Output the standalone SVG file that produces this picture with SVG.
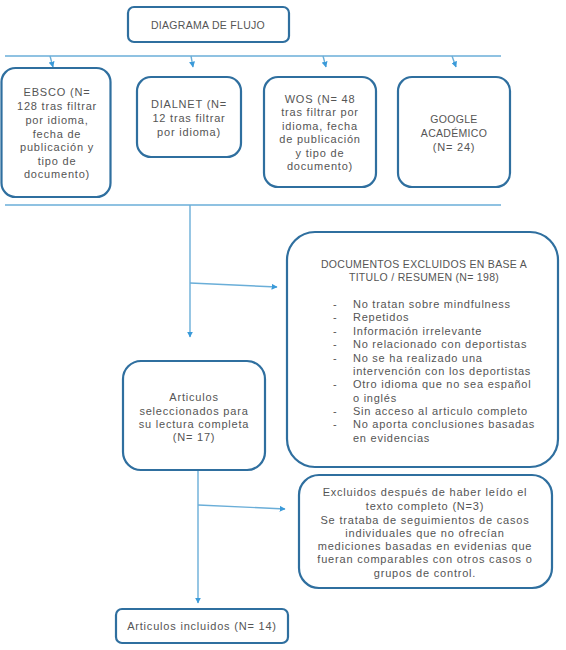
<svg xmlns="http://www.w3.org/2000/svg" width="566" height="650" viewBox="0 0 566 650">
<defs>
<style>
.box{fill:#fff;stroke:#2f6f9f;stroke-width:2.2}
.ln{fill:none;stroke:#6aaed8;stroke-width:1.4}
.t{font-family:"Liberation Sans",Arial,sans-serif;font-size:11px;fill:#555;text-anchor:middle;letter-spacing:0.8px}
.c{font-size:10.5px;letter-spacing:0.3px}
.tl{font-family:"Liberation Sans",Arial,sans-serif;font-size:11px;fill:#555;letter-spacing:0.75px}
</style>
<marker id="ah" viewBox="0 0 10 10" refX="9" refY="5" markerWidth="6" markerHeight="6" markerUnits="userSpaceOnUse" orient="auto">
<path d="M0,0 L10,5 L0,10 z" fill="#3a9ad9"/>
</marker>
</defs>
<rect width="566" height="650" fill="#fff"/>
<g id="connectors">
<line class="ln" x1="5" y1="56" x2="501" y2="56"/>
<line class="ln" x1="50" y1="56" x2="53" y2="67" marker-end="url(#ah)"/>
<line class="ln" x1="191" y1="56" x2="193" y2="67" marker-end="url(#ah)"/>
<line class="ln" x1="323" y1="56" x2="326" y2="67" marker-end="url(#ah)"/>
<line class="ln" x1="452" y1="56" x2="456" y2="67" marker-end="url(#ah)"/>
<line class="ln" x1="5" y1="205" x2="501" y2="205"/>
<line class="ln" x1="190" y1="205" x2="190" y2="337" marker-end="url(#ah)"/>
<line class="ln" x1="190" y1="283" x2="277" y2="287" marker-end="url(#ah)"/>
<line class="ln" x1="198" y1="470" x2="198" y2="603" marker-end="url(#ah)"/>
<line class="ln" x1="198" y1="505" x2="285" y2="509" marker-end="url(#ah)"/>
</g>
<g id="title">
<rect class="box" x="128" y="7" width="161" height="35" rx="6"/>
<text class="t c" x="208" y="29">DIAGRAMA DE FLUJO</text>
</g>
<g id="ebsco">
<rect class="box" x="1.5" y="68" width="109" height="129" rx="14"/>
<text class="t" x="57" y="96">EBSCO (N=</text>
<text class="t" x="57" y="110">128 tras filtrar</text>
<text class="t" x="57" y="124">por idioma,</text>
<text class="t" x="57" y="138">fecha de</text>
<text class="t" x="57" y="151">publicación y</text>
<text class="t" x="57" y="165">tipo de</text>
<text class="t" x="57" y="178">documento)</text>
</g>
<g id="dialnet">
<rect class="box" x="137" y="77" width="104" height="80" rx="14"/>
<text class="t" x="189" y="108">DIALNET (N=</text>
<text class="t" x="189" y="122">12 tras filtrar</text>
<text class="t" x="189" y="136">por idioma)</text>
</g>
<g id="wos">
<rect class="box" x="264" y="77" width="112" height="110" rx="14"/>
<text class="t" x="320" y="103">WOS (N= 48</text>
<text class="t" x="320" y="116">tras filtrar por</text>
<text class="t" x="320" y="130">idioma, fecha</text>
<text class="t" x="320" y="143">de publicación</text>
<text class="t" x="320" y="157">y tipo de</text>
<text class="t" x="320" y="170">documento)</text>
</g>
<g id="google">
<rect class="box" x="398" y="77" width="112" height="110" rx="14"/>
<text class="t c" x="454" y="123">GOOGLE</text>
<text class="t c" x="454" y="137">ACADÉMICO</text>
<text class="t" x="454" y="151">(N= 24)</text>
</g>
<g id="excluidos-titulo">
<rect class="box" x="287" y="232" width="271" height="235" rx="28"/>
<text class="t c" x="424" y="268">DOCUMENTOS EXCLUIDOS EN BASE A</text>
<text class="t c" x="424" y="281">TITULO / RESUMEN (N= 198)</text>
<g class="tl">
<text x="333" y="308">-</text><text x="353" y="308">No tratan sobre mindfulness</text>
<text x="333" y="321">-</text><text x="353" y="321">Repetidos</text>
<text x="333" y="335">-</text><text x="353" y="335">Información irrelevante</text>
<text x="333" y="348">-</text><text x="353" y="348">No relacionado con deportistas</text>
<text x="333" y="362">-</text><text x="353" y="362">No se ha realizado una</text>
<text x="353" y="375">intervención con los deportistas</text>
<text x="333" y="388">-</text><text x="353" y="388">Otro idioma que no sea español</text>
<text x="353" y="402">o inglés</text>
<text x="333" y="415">-</text><text x="353" y="415">Sin acceso al articulo completo</text>
<text x="333" y="428">-</text><text x="353" y="428">No aporta conclusiones basadas</text>
<text x="353" y="442">en evidencias</text>
</g>
</g>
<g id="articulos-seleccionados">
<rect class="box" x="123" y="361" width="142" height="109" rx="18"/>
<text class="t" x="194" y="401">Articulos</text>
<text class="t" x="194" y="415">seleccionados para</text>
<text class="t" x="194" y="428">su lectura completa</text>
<text class="t" x="194" y="441">(N= 17)</text>
</g>
<g id="excluidos-texto">
<rect class="box" x="299" y="475" width="253" height="113" rx="20"/>
<text class="t" x="425" y="496">Excluidos después de haber leído el</text>
<text class="t" x="425" y="510">texto completo (N=3)</text>
<text class="t" x="425" y="524">Se trataba de seguimientos de casos</text>
<text class="t" x="425" y="537">individuales que no ofrecían</text>
<text class="t" x="425" y="550">mediciones basadas en evidenias que</text>
<text class="t" x="425" y="563">fueran comparables con otros casos o</text>
<text class="t" x="425" y="577">grupos de control.</text>
</g>
<g id="articulos-incluidos">
<rect class="box" x="116" y="609" width="172" height="34" rx="6"/>
<text class="t" x="202" y="630">Articulos incluidos (N= 14)</text>
</g>
</svg>
